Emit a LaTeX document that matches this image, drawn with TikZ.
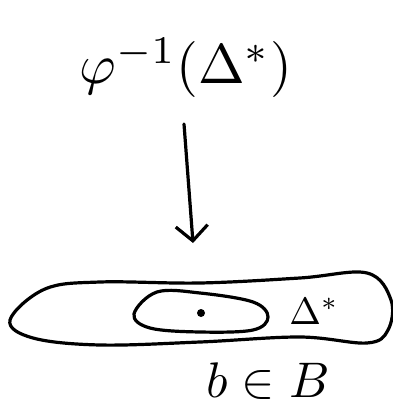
\documentclass[tikz,border=0pt]{standalone}
\usetikzlibrary{arrows.meta}
\begin{document}
\begin{tikzpicture}[x=1pt,y=-1pt,
  ink/.style={line width=3.2pt,line cap=round,line join=round},
  big/.style={inner sep=0pt,scale=5.6},
]
\useasboundingbox (0,0) rectangle (392,417);
\node[big] (top) at (186,68) {$\varphi^{-1}(\Delta^{*})$};
\coordinate (tip) at (193,243);
\coordinate (tail) at (184,124);
\draw[ink,-{Straight Barb[length=15pt,width=32pt,line width=3.2pt]}] (tail) -- (tip);
% outer blob
\draw[ink] plot[smooth cycle,tension=0.6] coordinates {
  (10,320) (45,289) (100,282) (200,283) (300,278) (367,273) (391,300)
  (388,330) (367,343) (300,337) (200,342) (100,345) (33,338)};
% inner blob
\draw[ink] plot[smooth cycle,tension=0.6] coordinates {
  (134,314) (157,292) (200,293) (253,302) (268,317) (253,330) (200,332) (150,328)};
\node[circle,fill,inner sep=0pt,minimum size=8pt] (b) at (201,313) {};
\node[inner sep=0pt,scale=3.8] (delta) at (314,311) {$\Delta^{*}$};
\node[inner sep=0pt,scale=5] (beb) at (268,381) {$b\in B$};
\end{tikzpicture}
\end{document}
